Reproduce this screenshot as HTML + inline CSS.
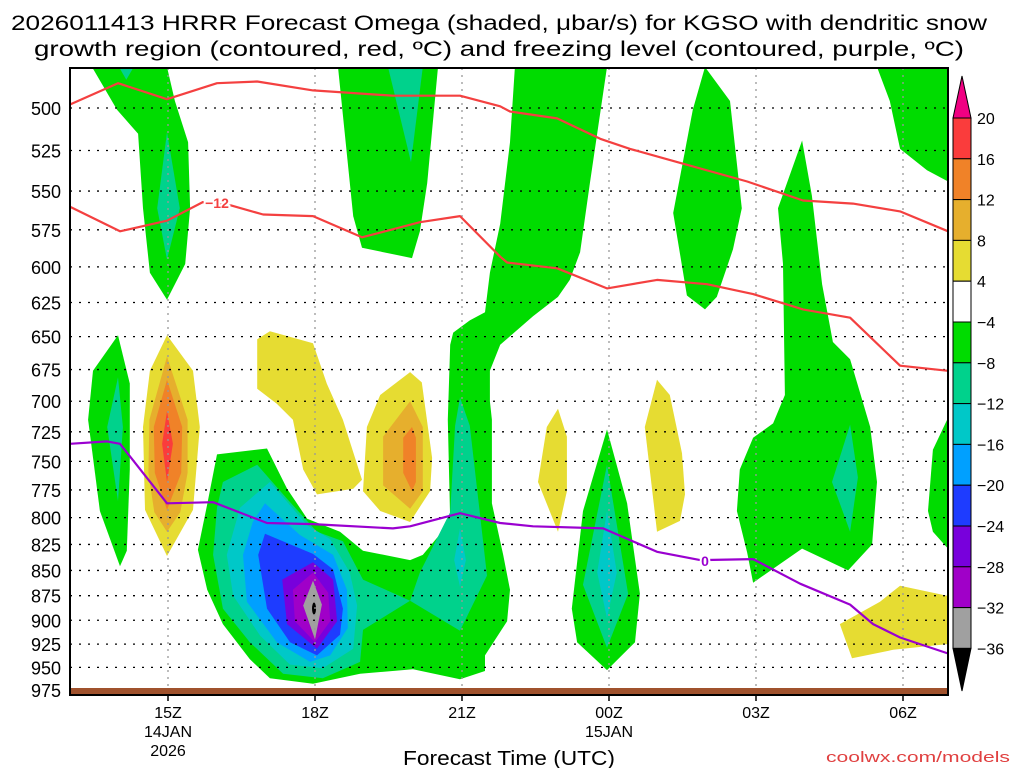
<!DOCTYPE html>
<html><head><meta charset="utf-8">
<style>
html,body{margin:0;padding:0;background:#fff;}
svg{display:block;font-family:"Liberation Sans",sans-serif;}
</style></head>
<body>
<svg id="chart" width="1024" height="768" viewBox="0 0 1024 768" xmlns="http://www.w3.org/2000/svg">
<g id="title">
<text x="499" y="30" text-anchor="middle" font-size="21" textLength="976" lengthAdjust="spacingAndGlyphs">2026011413 HRRR Forecast Omega (shaded, μbar/s) for KGSO with dendritic snow</text>
<text x="499" y="56" text-anchor="middle" font-size="21" textLength="930" lengthAdjust="spacingAndGlyphs">growth region (contoured, red, ºC) and freezing level (contoured, purple, ºC)</text>
</g>
<g id="shades"></g>
<g id="grid"></g>
<g id="lines"></g>
<rect x="70" y="688" width="878" height="7" fill="#a0522d"/>
<rect x="70" y="68" width="878" height="627" fill="none" stroke="#000" stroke-width="2"/>
<g id="yaxis"></g>
<g id="xaxis"></g>
<text x="509" y="765" text-anchor="middle" font-size="20" textLength="212" lengthAdjust="spacingAndGlyphs">Forecast Time (UTC)</text>
<text x="1010" y="762" text-anchor="end" font-size="15" fill="#e04040" textLength="184" lengthAdjust="spacingAndGlyphs">coolwx.com/models</text>
<g id="cbar"></g>
</svg>
<script>
// ---- axes data ----
const pressureTicks = [500,525,550,575,600,625,650,675,700,725,750,775,800,825,850,875,900,925,950,975];
const timeTickHours = [2,5,8,11,14,17];
const timeTickLabels = ["15Z","18Z","21Z","00Z","03Z","06Z"];
const dateLabels = [["14JAN","2026"],null,null,["15JAN"],null,null];
const cbarLevels = [20,16,12,8,4,-4,-8,-12,-16,-20,-24,-28,-32,-36];
const cbarColors = ["#fa3c3c","#f08228","#e6af2d","#e6dc32","#ffffff","#00dc00","#00d28c","#00c8c8","#00a0ff","#1e3cff","#7800dc","#a000c8","#a0a0a0"];

// ---- shaded omega regions: [hour since 13Z, pressure hPa] ----
const greenA = [[1.98,477],[2.14,496],[2.41,520],[2.45,561],[2.35,598],[1.98,623],[1.63,604],[1.49,561],[1.39,515],[0.96,501],[0.45,477]];
const tealA = [[1.98,514],[2.24,561],[1.98,595],[1.78,561]];
const tealA2 = [[1.0,477],[1.3,477],[1.15,484]];
const greenB = [[5.47,477],[7.51,477],[7.29,545],[7.14,576],[6.98,594],[5.96,587],[5.78,566]];
const tealB = [[6.49,477],[7.2,477],[6.96,532]];
const greenC = [[9.08,477],[8.98,520],[8.78,571],[8.57,604],[8.47,632],[8.16,638],[7.82,647],[7.76,656],[7.71,715],[7.76,804],[7.2,835],[6.94,840],[5.98,831],[5.51,813],[4.84,801],[4.43,774],[4.02,739],[3.0,744],[2.8,788],[2.61,830],[2.8,869],[3.12,904],[3.67,941],[4.08,962],[4.96,968],[5.92,957],[7.0,952],[7.96,963],[8.47,954],[8.47,937],[8.92,901],[8.98,869],[8.84,835],[8.61,787],[8.61,715],[8.57,700],[8.57,676],[8.78,656],[9.45,635],[9.96,621],[10.2,609],[10.41,590],[10.61,545],[10.96,477]];
const tealC = [[3.12,768],[3.82,753],[4.43,783],[5.04,813],[5.57,822],[5.98,859],[6.94,880],[5.98,910],[5.92,944],[5.16,962],[4.35,957],[3.67,923],[3.12,888],[2.92,835],[3.0,791]];
const tealCol = [[7.96,697],[8.16,720],[8.35,790],[8.51,855],[7.96,911],[6.94,880],[7.14,852],[7.76,795],[7.86,720]];
const cyanCol = [[7.96,810],[8.08,840],[7.96,866],[7.84,840]];
const cyanC = [[4.08,768],[4.84,807],[5.31,820],[5.71,852],[5.86,885],[5.78,930],[5.16,951],[4.49,947],[3.88,916],[3.33,875],[3.2,835],[3.47,791]];
const lblueC = [[3.98,787],[4.69,816],[5.37,835],[5.65,869],[5.67,908],[5.31,937],[4.9,944],[4.22,923],[3.61,881],[3.53,835],[3.73,804]];
const blueC = [[3.98,815],[4.96,834],[5.37,849],[5.57,888],[5.51,915],[5.04,937],[4.49,923],[4.02,888],[3.84,835]];
const violetC = [[4.96,842],[5.37,859],[5.45,901],[5.04,930],[4.43,904],[4.33,859]];
const purpleC = [[4.96,852],[5.27,872],[5.31,901],[5.0,923],[4.59,901],[4.55,869]];
const grayC = [[4.96,860],[5.14,884],[5.0,920],[4.76,885]];
const greenL = [[0.98,649],[1.22,686],[1.22,757],[1.16,831],[1.02,846],[0.61,794],[0.37,715],[0.47,676]];
const tealL = [[0.98,681],[1.08,721],[0.98,785],[0.76,721]];
const yellowP = [[1.98,649],[2.51,676],[2.65,721],[2.51,793],[1.98,836],[1.53,793],[1.49,721],[1.63,676]];
const goldP = [[1.98,665],[2.4,715],[2.4,760],[2.25,795],[1.98,813],[1.72,795],[1.6,760],[1.62,715]];
const orangeP = [[1.98,683],[2.29,721],[2.27,760],[1.98,793],[1.73,760],[1.71,721]];
const redP = [[1.98,708],[2.1,735],[1.98,768],[1.88,735]];
const yellowQ = [[3.82,652],[4.08,646],[4.96,655],[5.24,686],[5.57,715],[5.96,766],[5.78,774],[5.04,779],[4.76,757],[4.55,715],[4.22,702],[3.82,690]];
const yellowR = [[6.94,677],[7.18,685],[7.39,747],[7.35,776],[6.94,804],[6.33,794],[5.98,776],[6.06,721],[6.33,695]];
const goldR = [[6.94,700],[7.2,721],[7.2,776],[6.94,792],[6.39,771],[6.39,729]];
const orangeR = [[6.98,721],[7.06,730],[7.06,768],[6.98,776],[6.8,760],[6.8,730]];
const greenD = [[12.96,477],[13.47,496],[13.71,561],[13.53,588],[13.2,621],[12.96,630],[12.59,620],[12.31,564],[12.71,501]];
const greenE = [[14.94,519],[15.14,553],[15.35,612],[15.57,654],[15.92,667],[16.33,721],[16.47,768],[16.37,825],[15.88,850],[14.94,829],[13.94,862],[13.82,833],[13.61,794],[13.67,757],[13.94,730],[14.35,718],[14.59,695],[14.55,598],[14.45,561]];
const tealE = [[15.92,719],[16.08,764],[15.92,813],[15.55,768]];
const greenF = [[16.47,477],[17.95,477],[17.95,544],[17.49,537],[16.94,524],[16.73,496]];
const greenG = [[17.95,715],[17.9,715],[17.61,740],[17.51,794],[17.61,813],[17.9,828],[17.95,828]];
const greenH = [[10.96,723],[11.37,787],[11.63,873],[11.53,923],[10.96,953],[10.35,923],[10.24,888],[10.47,794]];
const tealH = [[10.96,753],[11.39,873],[10.96,929],[10.47,864]];
const cyanH = [[10.96,794],[11.16,852],[10.96,898],[10.76,852]];
const yellowI = [[9.96,706],[10.14,729],[10.14,776],[9.96,813],[9.55,768],[9.73,721]];
const yellowJ = [[11.98,683],[12.24,695],[12.49,743],[12.55,779],[12.45,803],[11.98,813],[11.73,721]];
const yellowK = [[15.71,904],[16.53,881],[16.94,865],[17.9,875],[17.95,875],[17.95,920],[17.9,925],[16.8,931],[15.96,940]];
const minPoint = [4.98,888];

// ---- contour lines ----
const tempUpper = [[0,498],[0.98,486],[1.98,495],[3.0,486],[3.82,485],[4.96,490],[6.59,493],[7.96,493],[8.78,499],[8.98,502],[9.94,506],[10.82,518],[11.43,524],[12.51,533],[13.82,544],[14.96,556],[15.98,558],[16.94,563],[17.92,576]];
const tempMinus12 = [[0,560],[1.02,576],[1.98,569],[2.71,557],[3.27,559],[3.94,565],[4.96,566],[5.96,580],[7.14,570],[7.96,566],[8.78,593],[8.92,597],[9.94,601],[10.96,615],[11.98,609],[13.0,612],[13.94,619],[14.96,630],[15.92,636],[16.94,672],[17.92,676]];
const freezingLevel = [[0,735],[0.76,733],[1.02,735],[1.98,787],[2.92,786],[4.02,805],[4.96,806],[6.59,810],[6.94,808],[7.96,796],[8.78,805],[9.45,808],[10.88,810],[11.98,832],[12.86,840],[13.94,839],[14.9,863],[15.92,884],[16.39,904],[16.94,918],[17.92,935]];

// ---- scales ----
const X0=70, X1=948, Y0=68, Y1=695;
function xs(h){return X0+49*h;}
function ys(p){return 108+871.5*Math.log(p/500);}
const NS="http://www.w3.org/2000/svg";
function mk(tag,attrs,parent){const e=document.createElementNS(NS,tag);for(const k in attrs)e.setAttribute(k,attrs[k]);parent.appendChild(e);return e;}
function ptsStr(a){return a.map(d=>xs(Math.min(d[0],17.92)).toFixed(1)+","+ys(d[1]).toFixed(1)).join(" ");}

const layers = [
 [greenA,"#00dc00","green-region"],[tealA,"#00d28c","teal-region"],[tealA2,"#00d28c","teal-region"],
 [greenB,"#00dc00","green-region"],[tealB,"#00d28c","teal-region"],
 [greenC,"#00dc00","green-region"],[tealC,"#00d28c","teal-region"],[tealCol,"#00d28c","teal-region"],[cyanCol,"#00c8c8","cyan-region"],
 [cyanC,"#00c8c8","cyan-region"],[lblueC,"#00a0ff","lightblue-region"],[blueC,"#1e3cff","blue-region"],[violetC,"#7800dc","violet-region"],[purpleC,"#a000c8","purple-region"],[grayC,"#a0a0a0","gray-region"],
 [greenL,"#00dc00","green-region"],[tealL,"#00d28c","teal-region"],
 [yellowP,"#e6dc32","yellow-region"],[goldP,"#e6af2d","gold-region"],[orangeP,"#f08228","orange-region"],[redP,"#fa3c3c","red-region"],
 [yellowQ,"#e6dc32","yellow-region"],[yellowR,"#e6dc32","yellow-region"],[goldR,"#e6af2d","gold-region"],[orangeR,"#f08228","orange-region"],
 [greenD,"#00dc00","green-region"],[greenE,"#00dc00","green-region"],[tealE,"#00d28c","teal-region"],[greenF,"#00dc00","green-region"],[greenG,"#00dc00","green-region"],
 [greenH,"#00dc00","green-region"],[tealH,"#00d28c","teal-region"],[cyanH,"#00c8c8","cyan-region"],
 [yellowI,"#e6dc32","yellow-region"],[yellowJ,"#e6dc32","yellow-region"],[yellowK,"#e6dc32","yellow-region"]
];
const shades=document.getElementById("shades");
layers.forEach(L=>{
  const e=mk("polygon",{points:ptsStr(L[0]),fill:L[1]},shades);
  
  
});
const mp=mk("ellipse",{cx:xs(minPoint[0]),cy:ys(minPoint[1]),rx:2,ry:6,fill:"#000"},shades);



// grid
const grid=document.getElementById("grid");
pressureTicks.forEach(p=>{
  const e=mk("line",{x1:X0,x2:X1,y1:ys(p),y2:ys(p),stroke:"#000","stroke-width":1.3,"stroke-dasharray":"2 7"},grid);
  
  
});
timeTickHours.forEach(h=>{
  const e=mk("line",{x1:xs(h),x2:xs(h),y1:Y0,y2:Y1,stroke:"#999","stroke-width":1.3,"stroke-dasharray":"2 5"},grid);
  
  
});

// lines
const lines=document.getElementById("lines");
function pl(a,col,name){
  const e=mk("polyline",{points:ptsStr(a),fill:"none",stroke:col,"stroke-width":2.2,"stroke-linejoin":"round"},lines);
  
  
}
pl(tempUpper,"#f44040","isotherm-upper");
pl(tempMinus12,"#f44040","isotherm-minus12");
pl(freezingLevel,"#9a00d0","freezing-level-line");
const lb1=mk("text",{x:217,y:ys(557)+6,"text-anchor":"middle","font-size":14,"font-weight":"bold",fill:"#f44040",stroke:"#fff","stroke-width":4,"paint-order":"stroke"},lines);
lb1.textContent="−12";


const lb2=mk("text",{x:705,y:ys(840)+6,"text-anchor":"middle","font-size":14,"font-weight":"bold",fill:"#9a00d0",stroke:"#fff","stroke-width":4,"paint-order":"stroke"},lines);
lb2.textContent="0";



// y axis
const ya=document.getElementById("yaxis");
pressureTicks.forEach(p=>{
  const t=mk("text",{x:61,y:ys(p)+7,"text-anchor":"end","font-size":18},ya);
  t.textContent=p;
  
  
});
// x axis
const xa=document.getElementById("xaxis");
timeTickHours.forEach((h,i)=>{
  const tk=mk("line",{x1:xs(h),x2:xs(h),y1:Y1,y2:Y1+6,stroke:"#000","stroke-width":1.5},xa);
  
  
  const t=mk("text",{x:xs(h),y:718,"text-anchor":"middle","font-size":16},xa);
  t.textContent=timeTickLabels[i];
  
  
  if(dateLabels[i]){dateLabels[i].forEach((s,j)=>{
    const d=mk("text",{x:xs(h),y:737+j*19,"text-anchor":"middle","font-size":16},xa);
    d.textContent=s;
    
    
  });}
});

// colorbar
const cb=document.getElementById("cbar");
const cbX=953, cbW=18, cbTop=118, cbStep=40.8;
const tri1=mk("polygon",{points:`${cbX},${cbTop} ${cbX+cbW},${cbTop} ${cbX+cbW/2},76`,fill:"#f00082",stroke:"#000","stroke-width":1},cb);


cbarColors.forEach((c,i)=>{
  const r=mk("rect",{x:cbX,y:cbTop+i*cbStep,width:cbW,height:cbStep,fill:c,stroke:"#000","stroke-width":1},cb);
  
  
});
const cbBot=cbTop+cbarColors.length*cbStep;
const tri2=mk("polygon",{points:`${cbX},${cbBot} ${cbX+cbW},${cbBot} ${cbX+cbW/2},691`,fill:"#000",stroke:"#000","stroke-width":1},cb);


cbarLevels.forEach((v,i)=>{
  const t=mk("text",{x:977,y:cbTop+i*cbStep+6,"font-size":16},cb);
  t.textContent=v<0?"−"+Math.abs(v):String(v);
  
  
});
</script>
</body></html>
